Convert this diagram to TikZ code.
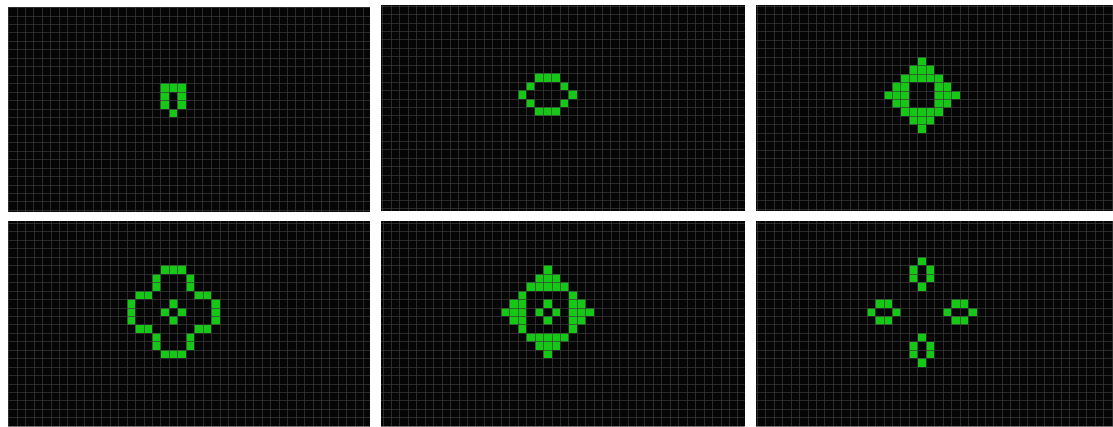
\documentclass[tikz,border=0pt]{standalone}
\definecolor{livegreen}{RGB}{22,200,22}
\definecolor{bgblack}{RGB}{5,5,5}
\definecolor{gridgray}{RGB}{58,58,58}
\tikzset{
  live/.style={fill=livegreen},
  bgpanel/.style={fill=bgblack},
  gridline/.style={draw=gridgray, line width=0.4pt, opacity=0.7}
}
\newcommand\cs{8.45}
\newcommand\lifepanel[7]{%
  \fill[bgpanel] (#1,#2) rectangle (#3,#4);
  \begin{scope}
    \clip (#1,#2) rectangle (#3,#4);
    \foreach \i/\j in {#7} \fill[live] ({#5+\i*\cs},{#6+\j*\cs}) rectangle ++(\cs,\cs);
    \foreach \k in {-1,...,44} \draw[gridline] ({#5+\k*\cs},#2) -- ({#5+\k*\cs},#4);
    \foreach \k in {-1,...,26} \draw[gridline] (#1,{#6+\k*\cs}) -- (#3,{#6+\k*\cs});
  \end{scope}}
\begin{document}
\begin{tikzpicture}[x=1pt,y=-1pt]
\useasboundingbox[fill=white] (0,0) rectangle (1113,426);
% top row
\lifepanel{8}{7}{370}{212}{8.3}{7.3}{18/9,19/9,20/9,18/10,20/10,18/11,20/11,19/12}
\lifepanel{381}{5}{744.5}{211}{382.5}{5.8}{18/8,19/8,20/8,17/9,21/9,16/10,22/10,17/11,21/11,18/12,19/12,20/12}
\lifepanel{755.5}{5}{1113}{210.5}{757}{6.2}{19/6,18/7,19/7,20/7,17/8,18/8,19/8,20/8,21/8,16/9,17/9,21/9,22/9,15/10,16/10,17/10,21/10,22/10,23/10,16/11,17/11,21/11,22/11,17/12,18/12,19/12,20/12,21/12,18/13,19/13,20/13,19/14}
% bottom row
\lifepanel{8}{221}{370}{426}{8.5}{223.2}{18/5,19/5,20/5,17/6,21/6,17/7,21/7,15/8,16/8,22/8,23/8,14/9,24/9,19/9,14/10,24/10,18/10,20/10,14/11,24/11,19/11,15/12,16/12,22/12,23/12,17/13,21/13,17/14,21/14,18/15,19/15,20/15}
\lifepanel{381}{221}{744.5}{426}{382.7}{223.2}{19/5,18/6,19/6,20/6,17/7,18/7,19/7,20/7,21/7,16/8,22/8,15/9,16/9,19/9,22/9,23/9,14/10,15/10,16/10,18/10,20/10,22/10,23/10,24/10,15/11,16/11,19/11,22/11,23/11,16/12,22/12,17/13,18/13,19/13,20/13,21/13,18/14,19/14,20/14,19/15}
\lifepanel{755.5}{220.5}{1113}{426}{757}{223.2}{19/4,18/5,20/5,18/6,20/6,19/7,14/9,15/9,23/9,24/9,13/10,16/10,22/10,25/10,14/11,15/11,23/11,24/11,19/13,18/14,20/14,18/15,20/15,19/16}
\end{tikzpicture}
\end{document}
